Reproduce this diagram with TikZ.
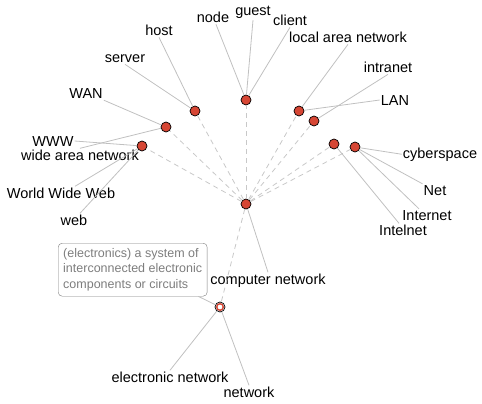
\documentclass[tikz,border=0pt]{standalone}
\usepackage{fontspec}
\setmainfont{Liberation Sans}
\definecolor{dotred}{RGB}{214,70,52}
\definecolor{linkgray}{RGB}{192,192,192}
\definecolor{hopgray}{RGB}{200,200,200}
\definecolor{tipgray}{RGB}{125,125,125}

\begin{document}
\begin{tikzpicture}[
    x=1pt, y=-1pt,
    every node/.style={
        font=\fontsize{14.5pt}{17pt}\selectfont,
    },
    term/.style={anchor=base, inner sep=1pt},
    dot/.style={circle, draw=black, fill=dotred, line width=0.7pt, inner sep=0pt, minimum size=10pt},
    elecdot/.style={dot, fill=white, path picture={\draw[dotred, line width=1.4pt] (path picture bounding box.center) circle (3.3pt);}},
    link/.style={draw=linkgray, line width=0.8pt},
    hop/.style={draw=hopgray, line width=0.8pt, dash pattern=on 5pt off 4pt},
    gloss/.style={draw=tipgray, text=tipgray, rounded corners=4pt, align=left, anchor=north west,
        minimum width=147pt, minimum height=53pt, inner sep=5pt,
        font=\fontsize{12.5pt}{15.3pt}\selectfont},
]
    \useasboundingbox (0,0) rectangle (482,404);

    \node[dot] (cn) at (246,204) {};
    \node[dot] (hostset) at (195,111) {};
    \node[dot] (wanset) at (166,127) {};
    \node[dot] (wwwset) at (142,146) {};
    \node[dot] (nodeset) at (246,100) {};
    \node[dot] (lanset) at (299,111) {};
    \node[dot] (intraset) at (314,121) {};
    \node[dot] (intelset) at (334,144) {};
    \node[dot] (netset) at (355,147) {};
    \node[elecdot] (elecset) at (220,307) {};

    \node[term] (host) at (159,36) {host};
    \node[term] (server) at (125,63) {server};
    \node[term] (wan) at (86,99) {WAN};
    \node[term] (www) at (53,146) {WWW};
    \node[term] (widearea) at (80,160) {wide area network};
    \node[term] (worldwide) at (61,198) {World Wide Web};
    \node[term] (web) at (74,225) {web};
    \node[term] (nodew) at (213,23) {node};
    \node[term] (guest) at (253,16) {guest};
    \node[term] (client) at (290,26) {client};
    \node[term] (localarea) at (348,43) {local area network};
    \node[term] (intranet) at (388,73) {intranet};
    \node[term] (lan) at (395,105) {LAN};
    \node[term] (cyber) at (440,158) {cyberspace};
    \node[term] (net) at (435,195) {Net};
    \node[term] (internet) at (427,220) {Internet};
    \node[term] (intelnet) at (403,235) {Intelnet};
    \node[term] (compnet) at (268,284) {computer network};
    \node[term] (elecnet) at (170,382) {electronic network};
    \node[term] (network) at (249,397) {network};
    \node[gloss] (tip) at (58,243) {(electronics) a system of\\interconnected electronic\\components or circuits};

    \foreach \s in {hostset,wanset,wwwset,nodeset,lanset,intraset,intelset,netset,elecset}
        \draw[hop] (cn) -- (\s);

    \draw[link] (hostset) -- (host.south);
    \draw[link] (hostset) -- (server.south);
    \draw[link] (wanset) -- (wan.south east);
    \draw[link] (wanset) -- (widearea.north);
    \draw[link] (wwwset) -- (www.east);
    \draw[link] (wwwset) -- ([xshift=14pt]worldwide.north);
    \draw[link] (wwwset) -- ([xshift=6pt]web.north);
    \draw[link] (nodeset) -- ([xshift=3pt]nodew.south);
    \draw[link] (nodeset) -- (guest.south);
    \draw[link] (nodeset) -- (client.south);
    \draw[link] (lanset) -- (localarea.south);
    \draw[link] (lanset) -- (lan.west);
    \draw[link] (intraset) -- (intranet.south);
    \draw[link] (netset) -- (cyber.west);
    \draw[link] (netset) -- (net.north west);
    \draw[link] (netset) -- ([xshift=-8pt]internet.north);
    \draw[link] (intelset) -- ([xshift=-4pt]intelnet.north);
    \draw[link] (cn) -- (compnet.north);
    \draw[link] (elecset) -- (elecnet.north);
    \draw[link] (elecset) -- (network.north);
    \draw[link] (elecset) -- ([xshift=-9pt]tip.south east);
\end{tikzpicture}
\end{document}
